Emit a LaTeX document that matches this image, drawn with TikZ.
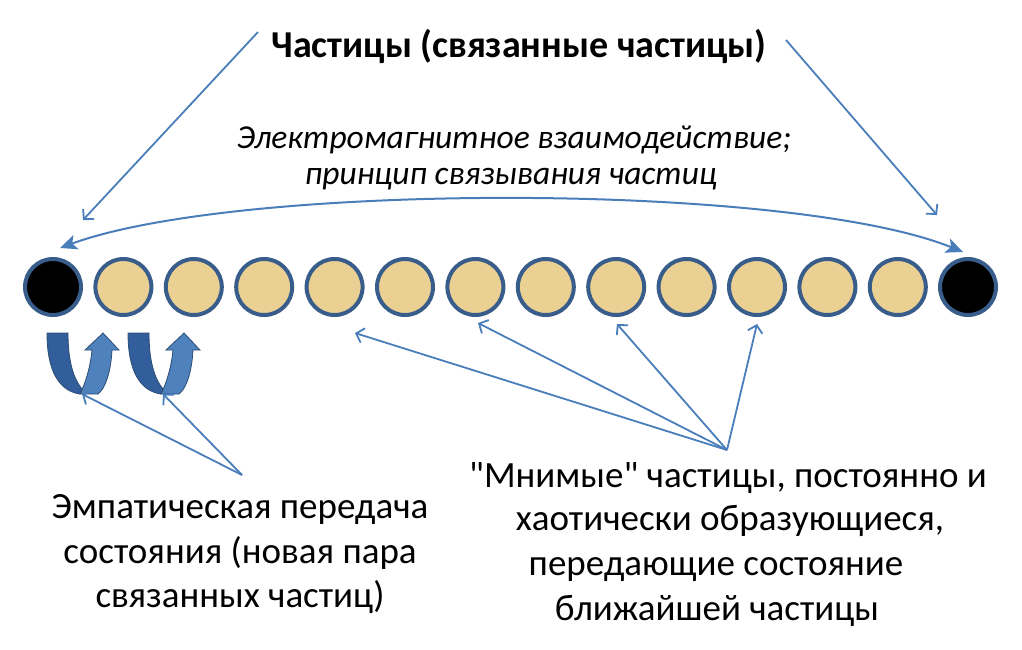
\documentclass[tikz,border=0pt]{standalone}
\usepackage{fontspec}
\setmainfont{Carlito}[Ligatures=TeXOff]
\usetikzlibrary{arrows.meta}
\definecolor{lineblue}{RGB}{74,126,187}
\definecolor{ringblue}{RGB}{56,93,138}
\definecolor{papyrus}{RGB}{235,208,148}
\definecolor{udark}{RGB}{50,94,155}
\definecolor{ulight}{RGB}{79,129,189}
\definecolor{uedge}{RGB}{44,77,117}
\begin{document}
\begin{tikzpicture}[x=1pt,y=-1pt,
  particle/.style={circle, minimum size=56pt, inner sep=0pt, line width=4pt, draw=ringblue},
  realp/.style={particle, fill=black},
  virtp/.style={particle, fill=papyrus},
  link/.style={draw=lineblue, line width=1.8pt, -{Straight Barb[length=7pt,width=15pt]}},
  bond/.style={draw=lineblue, line width=2pt, {Stealth[length=17pt,width=15pt,inset=4pt]}-{Stealth[length=17pt,width=15pt,inset=4pt]}},
  txt/.style={font=\fontsize{37}{44}\selectfont, anchor=base, inner sep=0pt},
  ttl/.style={font=\bfseries\fontsize{38}{44}\selectfont, anchor=base, inner sep=0pt},
  itl/.style={font=\itshape\fontsize{33.5}{39}\selectfont, anchor=base, inner sep=0pt},
  uturn/.pic={
    \fill[udark, draw=uedge, line width=0.8pt] (0,0) -- (21,0) .. controls (21,27) and (26,45) .. (35,56) -- (33,61) .. controls (12,58) and (0,38) .. (0,0) -- cycle;
    \fill[ulight, draw=uedge, line width=0.8pt] (33,61) .. controls (40,47) and (44,29) .. (45,17) -- (38,17) -- (56,0) -- (72,17) -- (65,17) .. controls (64,37) and (59,55) .. (51,61) -- cycle;
    \coordinate (-tip) at (35,61);
  }]
\useasboundingbox (0,0) rectangle (1022,649);

% particles
\node[realp] (c1) at (53,287) {};
\foreach \i in {2,...,13} \node[virtp] (c\i) at ({53+(\i-1)*70.4},287) {};
\node[realp] (c14) at (968,287) {};

% texts
\node[ttl] (title) at (519,57) {Частицы (связанные частицы)};
\node[itl] (em1) at (514,148) {Электромагнитное взаимодействие;};
\node[itl] (em2) at (511,184) {принцип связывания частиц};
\node[txt] (emp1) at (240,518) {Эмпатическая передача};
\node[txt] (emp2) at (240,563) {состояния (новая пара};
\node[txt] (emp3) at (240,607) {связанных частиц)};
\node[txt] (vir1) at (728,487) {"Мнимые" частицы, постоянно и};
\node[txt] (vir2) at (730,530) {хаотически образующиеся,};
\node[txt] (vir3) at (716,575) {передающие состояние};
\node[txt] (vir4) at (717,620) {ближайшей частицы};

% u-turn arrows
\pic (u1) at (47,333) {uturn};
\pic (u2) at (128,333) {uturn};

% coordinates
\coordinate (tlS) at (258,32);
\coordinate (tlE) at (83,220);
\coordinate (trS) at (786,40);
\coordinate (trE) at (937,215);
\coordinate (bL) at (60,248);
\coordinate (bR) at (963,252);
\coordinate (vS) at (727,450);
\coordinate (v1) at (355,333);
\coordinate (v2) at (478,323);
\coordinate (v3) at (617,324);
\coordinate (v4) at (757,324);
\coordinate (eS) at (242,475);

% connectors
\draw[link] (tlS) -- (tlE);
\draw[link] (trS) -- (trE);
\draw[bond] (bL) .. controls (240,182) and (790,182) .. (bR);
\foreach \t in {v1,v2,v3,v4} \draw[link] (vS) -- (\t);
\draw[link] (eS) -- (u1-tip);
\draw[link] (eS) -- (u2-tip);
\end{tikzpicture}
\end{document}
